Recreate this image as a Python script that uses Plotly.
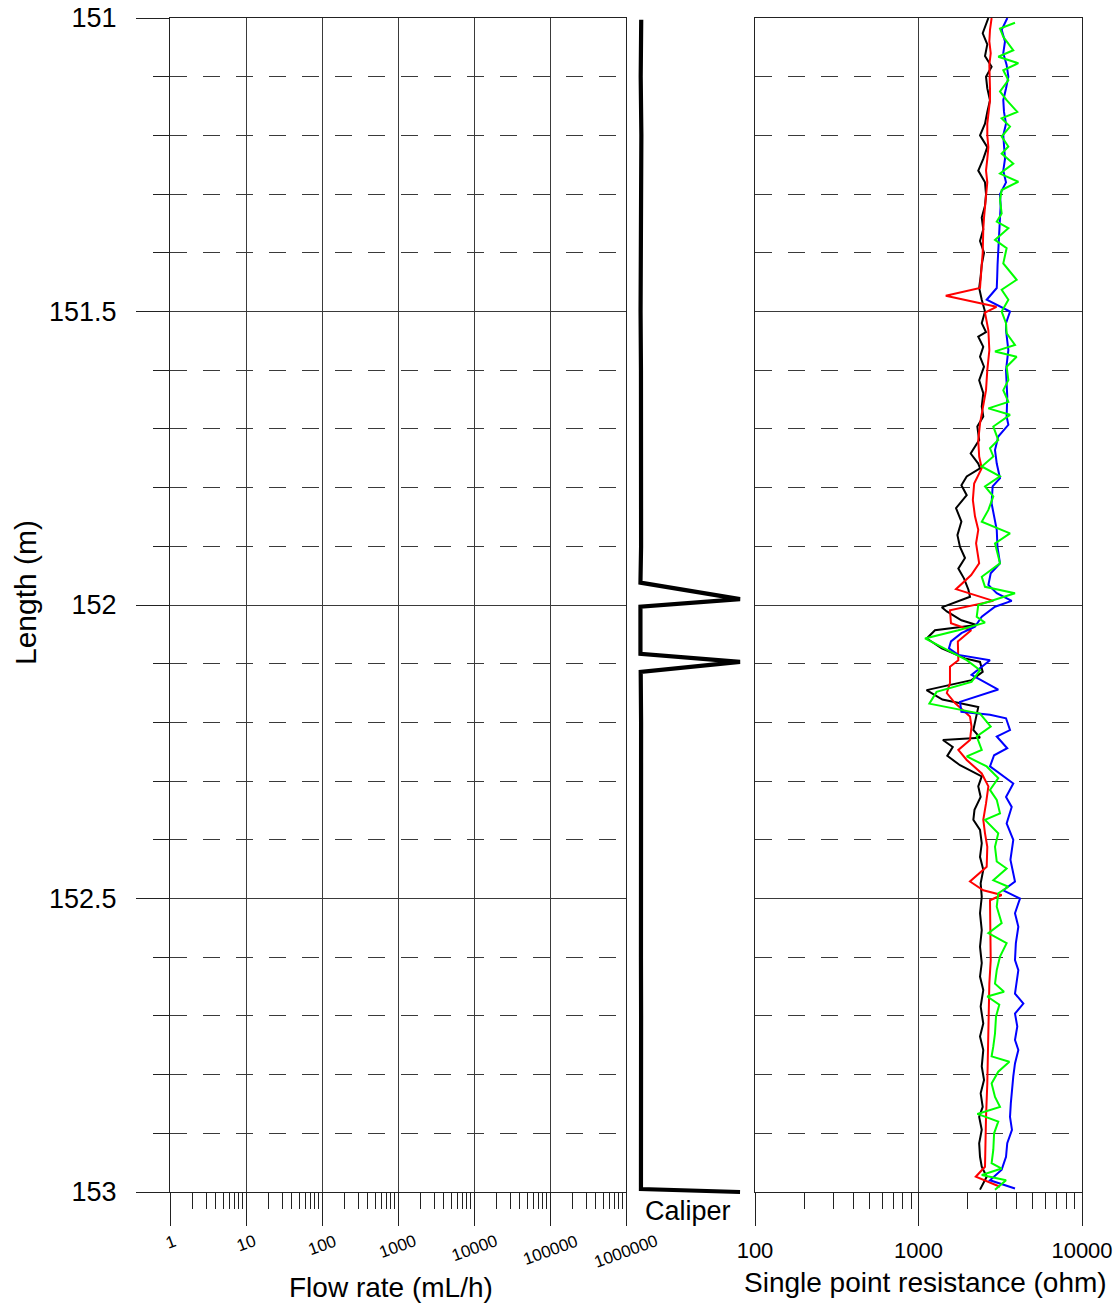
import numpy as np
import plotly.graph_objects as go

FONT = "Liberation Sans, Arial, sans-serif"

# ---------------- data ----------------
flow_ticks = [1, 10, 100, 1000, 10000, 100000, 1000000]
flow_tick_text = ["1", "10", "100", "1000", "10000", "100000", "1000000"]
flow_minor = [k * 10 ** n for n in range(0, 6) for k in range(2, 10)]
spr_ticks = [100, 1000, 10000]
spr_tick_text = ["100", "1000", "10000"]
spr_minor = [k * 10 ** n for n in range(2, 4) for k in range(2, 10)]
depth_ticks = [151, 151.5, 152, 152.5, 153]
depth_tick_text = ["151", "151.5", "152", "152.5", "153"]

caliper_depth = [151.003, 151.1, 151.2, 151.3, 151.4, 151.5, 151.6, 151.7, 151.8, 151.9,
                 151.962, 151.990, 152.003, 152.05, 152.083, 152.097, 152.114, 152.2,
                 152.3, 152.4, 152.5, 152.6, 152.7, 152.8, 152.9, 152.995, 153.0]
caliper_value = [0.118, 0.114, 0.119, 0.115, 0.117, 0.113, 0.116, 0.118, 0.114, 0.117,
                 0.112, 0.884, 0.112, 0.113, 0.112, 0.884, 0.114, 0.117,
                 0.115, 0.118, 0.114, 0.116, 0.117, 0.115, 0.116, 0.116, 0.884]

black_depth = [151.000, 151.026, 151.045, 151.065, 151.083, 151.100, 151.120, 151.140, 151.160, 151.180,
               151.200, 151.220, 151.240, 151.260, 151.280, 151.300, 151.320, 151.340, 151.360, 151.380,
               151.400, 151.420, 151.440, 151.460, 151.480, 151.500, 151.520, 151.535, 151.543, 151.560,
               151.577, 151.594, 151.617, 151.639, 151.662, 151.679, 151.696, 151.719, 151.742, 151.759,
               151.767, 151.781, 151.796, 151.813, 151.835, 151.858, 151.881, 151.901, 151.920, 151.938,
               151.955, 151.974, 151.986, 152.004, 152.011, 152.026, 152.034, 152.043, 152.057, 152.074,
               152.091, 152.097, 152.114, 152.128, 152.145, 152.161, 152.174, 152.196, 152.213, 152.226,
               152.230, 152.242, 152.257, 152.273, 152.292, 152.309, 152.327, 152.349, 152.366, 152.383,
               152.406, 152.429, 152.451, 152.474, 152.497, 152.525, 152.554, 152.582, 152.610, 152.633,
               152.656, 152.684, 152.713, 152.735, 152.758, 152.786, 152.809, 152.832, 152.855, 152.872,
               152.894, 152.917, 152.940, 152.957, 152.974, 152.996]
black_ohm = [2675, 2470, 2635, 2551, 2800, 2588, 2635, 2737, 2635, 2551,
             2378, 2635, 2490, 2320, 2551, 2588, 2551, 2437, 2490, 2378,
             2516, 2437, 2400, 2350, 2437, 2551, 2437, 2588, 2320, 2490,
             2378, 2516, 2350, 2490, 2437, 2490, 2290, 2350, 2085, 2320,
             2378, 1972, 1830, 1972, 1696, 1830, 1730, 1794, 1925, 1752,
             1900, 2020, 2065, 1388, 1490, 1830, 2270, 1261, 1124, 1388,
             1925, 2378, 2470, 2110, 1120, 1400, 2320, 2230, 2165, 2378,
             1410, 1620, 1500, 1794, 2437, 2320, 2400, 2200, 2165, 2378,
             2437, 2378, 2490, 2400, 2437, 2378, 2437, 2378, 2437, 2378,
             2490, 2400, 2490, 2378, 2490, 2437, 2516, 2400, 2470, 2350,
             2437, 2350, 2378, 2437, 2613, 2378]

red_depth = [151.000, 151.020, 151.040, 151.060, 151.080, 151.100, 151.120, 151.140, 151.160, 151.180,
             151.200, 151.220, 151.240, 151.260, 151.280, 151.300, 151.320, 151.340, 151.360, 151.380,
             151.400, 151.420, 151.440, 151.460, 151.473, 151.492, 151.502, 151.520, 151.532, 151.566,
             151.600, 151.634, 151.662, 151.691, 151.719, 151.747, 151.767, 151.793, 151.821, 151.849,
             151.872, 151.895, 151.929, 151.949, 151.973, 151.993, 152.009, 152.031, 152.043, 152.062,
             152.094, 152.105, 152.133, 152.150, 152.167, 152.190, 152.207, 152.230, 152.247, 152.264,
             152.287, 152.309, 152.338, 152.366, 152.389, 152.412, 152.446, 152.471, 152.486, 152.494,
             152.503, 152.537, 152.576, 152.605, 152.645, 152.701, 152.758, 152.815, 152.872, 152.928,
             152.957, 152.974, 152.991]
red_ohm = [2800, 2737, 2712, 2765, 2712, 2737, 2737, 2737, 2675, 2635,
           2635, 2675, 2635, 2588, 2635, 2588, 2551, 2516, 2490, 2490,
           2470, 2437, 2400, 2378, 1468, 3000, 2551, 2635, 2675, 2712,
           2635, 2588, 2490, 2378, 2320, 2350, 2437, 2190, 2150, 2215,
           2320, 2250, 2350, 2100, 1696, 2868, 1558, 1580, 2100, 1740,
           1752, 1558, 1558, 1490, 1672, 2065, 2110, 2065, 1752, 1972,
           2437, 2675, 2588, 2490, 2551, 2635, 2613, 2065, 2490, 3226,
           2737, 2737, 2765, 2765, 2712, 2690, 2675, 2635, 2588, 2551,
           2551, 2240, 3151]

blue_depth = [151.000, 151.020, 151.040, 151.060, 151.080, 151.100, 151.120, 151.140, 151.160, 151.180,
              151.200, 151.220, 151.240, 151.260, 151.280, 151.300, 151.320, 151.340, 151.360, 151.380,
              151.400, 151.420, 151.440, 151.460, 151.480, 151.500, 151.520, 151.532, 151.566, 151.600,
              151.645, 151.679, 151.693, 151.713, 151.736, 151.759, 151.784, 151.798, 151.827, 151.849,
              151.872, 151.901, 151.929, 151.946, 151.966, 151.980, 151.993, 152.003, 152.020, 152.037,
              152.048, 152.062, 152.074, 152.085, 152.094, 152.119, 152.144, 152.165, 152.182, 152.187,
              152.193, 152.213, 152.224, 152.244, 152.256, 152.275, 152.304, 152.327, 152.344, 152.372,
              152.400, 152.434, 152.471, 152.486, 152.500, 152.525, 152.548, 152.576, 152.605, 152.622,
              152.645, 152.662, 152.679, 152.696, 152.718, 152.741, 152.758, 152.781, 152.803, 152.826,
              152.849, 152.872, 152.894, 152.917, 152.940, 152.962, 152.980, 152.994]
blue_ohm = [3495, 3226, 3381, 3300, 3460, 3545, 3429, 3300, 3334, 3429,
            3300, 3334, 3381, 3300, 3429, 3151, 3180, 3151, 3120, 3090,
            3075, 3045, 3030, 3010, 2613, 3628, 3430, 3429, 3545, 3429,
            3490, 3460, 3545, 3075, 2937, 3010, 3151, 2840, 2800, 2900,
            3010, 3040, 3151, 2765, 2675, 3010, 3716, 2937, 2437, 2215,
            1830, 1580, 1535, 1752, 2737, 2110, 3075, 1794, 1830, 2737,
            3430, 3628, 3010, 3490, 2900, 2737, 3800, 3430, 3716, 3460,
            3800, 3650, 3892, 3300, 4176, 3892, 4080, 3940, 3892, 4080,
            3985, 3892, 4380, 3892, 4020, 3892, 4080, 3892, 3800, 3716,
            3670, 3628, 3730, 3490, 3430, 3226, 2737, 3892]

green_depth = [151.008, 151.018, 151.032, 151.049, 151.055, 151.066, 151.077, 151.089, 151.106, 151.125,
               151.140, 151.160, 151.171, 151.185, 151.202, 151.219, 151.231, 151.248, 151.265, 151.279,
               151.293, 151.310, 151.333, 151.347, 151.358, 151.378, 151.392, 151.418, 151.446, 151.463,
               151.480, 151.500, 151.520, 151.537, 151.557, 151.568, 151.577, 151.594, 151.617, 151.634,
               151.654, 151.665, 151.676, 151.696, 151.719, 151.733, 151.747, 151.764, 151.781, 151.798,
               151.815, 151.838, 151.858, 151.878, 151.895, 151.929, 151.952, 151.969, 151.980, 152.000,
               152.020, 152.030, 152.043, 152.057, 152.077, 152.094, 152.111, 152.131, 152.148, 152.168,
               152.185, 152.207, 152.224, 152.247, 152.258, 152.275, 152.295, 152.315, 152.332, 152.355,
               152.366, 152.389, 152.412, 152.437, 152.449, 152.469, 152.480, 152.491, 152.514, 152.542,
               152.559, 152.576, 152.599, 152.622, 152.645, 152.659, 152.667, 152.681, 152.701, 152.730,
               152.752, 152.769, 152.778, 152.795, 152.815, 152.838, 152.855, 152.867, 152.880, 152.900,
               152.928, 152.951, 152.960, 152.971, 152.980, 152.996]
green_ohm = [3892, 3151, 3300, 3628, 3800, 3075, 4080, 3300, 3545, 3151,
             3460, 4020, 3226, 3628, 3226, 3545, 3226, 3800, 3151, 4080,
             3226, 3151, 3226, 3010, 3545, 2937, 3460, 3300, 3985, 3226,
             3545, 3226, 3430, 3460, 3892, 2937, 3985, 3460, 3545, 3300,
             3545, 2675, 3628, 2868, 3075, 2737, 2868, 2437, 3151, 2551,
             2868, 2675, 2437, 3628, 2937, 3151, 2437, 2551, 3892, 2320,
             2270, 2551, 1752, 1096, 1490, 1972, 2378, 2110, 1290, 1165,
             2378, 2765, 2270, 2437, 1972, 2613, 3075, 2737, 3010, 3151,
             2551, 3075, 2937, 3010, 3460, 2868, 3545, 3075, 3010, 3226,
             2675, 3460, 3151, 3010, 2937, 3334, 2635, 3120, 2980, 2937,
             2868, 2800, 3595, 3075, 2800, 2937, 3151, 2290, 3075, 2900,
             2868, 2800, 3226, 2437, 3430, 2937]

# ---------------- layout geometry (pixels) ----------------
W, H = 1120, 1306
PL, PR, PT, PB = 170, 1082, 14, 1196
PW, PH = PR - PL, PB - PT
def px_x(px):
    return (px - PL) / PW
def px_y(py):
    return (PB - py) / PH

y_dom = [px_y(1192), px_y(18)]
x_dom_left = [0, px_x(626)]
x_dom_cal = [px_x(626), px_x(755)]
x_dom_right = [px_x(755), 1]
pad_m = 4 / 587.0

GRID = "#3a3a3a"
LINE = "#222222"

fig = go.Figure()

# left (flow rate) panel - empty
fig.add_trace(go.Scatter(x=[10], y=[152], mode="markers", marker=dict(opacity=0),
                         hoverinfo="skip", showlegend=False, xaxis="x", yaxis="y"))
# caliper
fig.add_trace(go.Scatter(x=caliper_value, y=caliper_depth, mode="lines",
                         line=dict(color="black", width=4.2), showlegend=False,
                         xaxis="x2", yaxis="y2"))
# SPR series
for d, v, c in [(black_depth, black_ohm, "#000000"), (red_depth, red_ohm, "#ff0000"),
                (blue_depth, blue_ohm, "#0000ff"), (green_depth, green_ohm, "#00ff00")]:
    fig.add_trace(go.Scatter(x=v, y=d, mode="lines", line=dict(color=c, width=2),
                             showlegend=False, xaxis="x3", yaxis="y3"))

dash = "17px,16px"
common_y_minor = dict(tickmode="linear", tick0=151, dtick=0.1, showgrid=True,
                      gridcolor=GRID, gridwidth=1, griddash=dash)

fig.update_layout(
    width=W, height=H,
    margin=dict(l=PL, r=W - PR, t=PT, b=H - PB, pad=0, autoexpand=False),
    paper_bgcolor="white", plot_bgcolor="white",
    font=dict(family=FONT, color="black"),
    showlegend=False,
    xaxis=dict(domain=x_dom_left, anchor="y", type="log", range=[0, 6], automargin=False,
               tickmode="array", tickvals=flow_ticks, showticklabels=False,
               ticks="outside", ticklen=33, tickwidth=1, tickcolor=LINE,
               showgrid=True, gridcolor=GRID, gridwidth=1,
               showline=True, linecolor=LINE, linewidth=1, mirror=True, zeroline=False,
               minor=dict(tickmode="array", tickvals=flow_minor, ticks="outside", ticklen=16,
                          tickwidth=1, tickcolor=LINE, showgrid=False)),
    yaxis=dict(domain=y_dom, anchor="x", range=[153, 151], automargin=False,
               tickmode="array", tickvals=depth_ticks, ticktext=depth_tick_text,
               ticks="outside", ticklen=33, tickwidth=1, tickcolor=LINE,
               tickfont=dict(size=27, family=FONT), ticklabelstandoff=14,
               showgrid=True, gridcolor=GRID, gridwidth=1,
               showline=True, linecolor=LINE, linewidth=1, mirror=True, zeroline=False,
               minor=dict(ticks="outside", ticklen=16, tickwidth=1, tickcolor=LINE, **common_y_minor)),
    xaxis2=dict(domain=x_dom_cal, anchor="y2", range=[0, 1], automargin=False,
                showticklabels=False, ticks="", showgrid=False, showline=False, zeroline=False),
    yaxis2=dict(domain=[0, 1], anchor="x2", range=[153 + pad_m, 151 - pad_m], automargin=False,
                visible=False),
    xaxis3=dict(domain=x_dom_right, anchor="y3", type="log", range=[2, 4], automargin=False,
                tickmode="array", tickvals=spr_ticks, ticktext=spr_tick_text,
                tickfont=dict(size=22, family=FONT), ticklabelstandoff=6,
                ticks="outside", ticklen=33, tickwidth=1, tickcolor=LINE,
                showgrid=True, gridcolor=GRID, gridwidth=1,
                showline=True, linecolor=LINE, linewidth=1, mirror=True, zeroline=False,
                minor=dict(tickmode="array", tickvals=spr_minor, ticks="outside", ticklen=16,
                           tickwidth=1, tickcolor=LINE, showgrid=False)),
    yaxis3=dict(domain=y_dom, anchor="x3", range=[153, 151], matches="y", automargin=False,
                tickmode="array", tickvals=depth_ticks, showticklabels=False, ticks="",
                showgrid=True, gridcolor=GRID, gridwidth=1,
                showline=True, linecolor=LINE, linewidth=1, mirror=True, zeroline=False,
                minor=dict(ticks="", **common_y_minor)),
)

annotations = []
for v, t in zip(flow_ticks, flow_tick_text):
    annotations.append(dict(x=np.log10(v), xref="x", y=px_y(1229), yref="paper",
                            text=t, textangle=-20, xanchor="center", yanchor="top",
                            showarrow=False, font=dict(size=17, family=FONT)))
annotations += [
    dict(x=px_x(390.5), y=px_y(1287), xref="paper", yref="paper", text="Flow rate (mL/h)",
         showarrow=False, xanchor="center", yanchor="middle", font=dict(size=28, family=FONT)),
    dict(x=px_x(687.5), y=px_y(1211), xref="paper", yref="paper", text="Caliper",
         showarrow=False, xanchor="center", yanchor="middle", font=dict(size=27, family=FONT)),
    dict(x=px_x(925), y=px_y(1282), xref="paper", yref="paper", text="Single point resistance (ohm)",
         showarrow=False, xanchor="center", yanchor="middle", font=dict(size=28, family=FONT)),
    dict(x=px_x(25), y=px_y(593), xref="paper", yref="paper", text="Length (m)", textangle=-90,
         showarrow=False, xanchor="center", yanchor="middle", font=dict(size=30, family=FONT)),
]
fig.update_layout(annotations=annotations)

fig.write_html("out.html")
